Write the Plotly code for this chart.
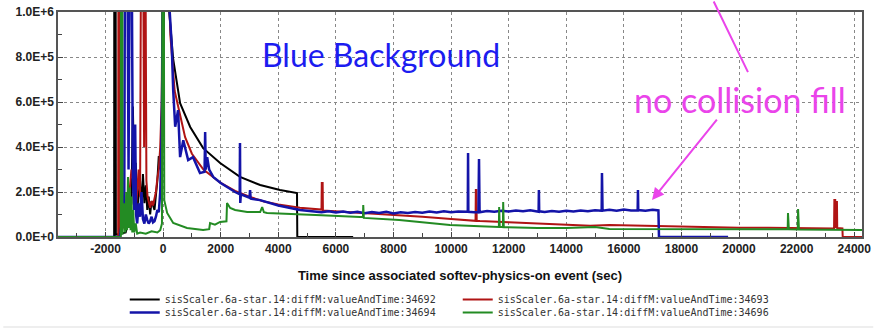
import plotly.graph_objects as go

# ---------------- data ----------------
black_x = [-3650, -1700, -1695, -1650, -1640, -1300, -1200, -1100, -1050, -1000, -950, -900, -800, -750, -700,
           -650, -600, -550, -500, -450, -400, -300, -200, -150, -100, -50, 0, 60, 180, 350, 590, 940, 1390,
           1980, 2670, 3370, 4060, 4650, 4660, 6600]
black_y = [0, 0, 1.5e6, 1.5e6, 10000, 20000, 80000, 150000, 580000, 200000, 330000, 120000, 250000, 120000, 280000,
           150000, 230000, 120000, 180000, 100000, 160000, 120000, 250000, 360000, 300000, 520000, 600000, 1.5e6,
           1.05e6, 790000, 595000, 489000, 395000, 329000, 267000, 231000, 209000, 195000, 0, 0]

red_x = [-3650, -1560, -1550, -1520, -1510, -1300, -1200, -1100, -1000, -950, -900, -850, -800, -760, -700, -660,
         -620, -580, -540, -500, -450, -400, -350, -300, -250, -200, -150, -100, -50, 0, 120, 250, 400, 764, 1000,
         1400, 2000, 2500, 3020, 3500, 4000, 4750, 5400, 5500, 5510, 5540, 5550, 6500, 7500, 8200, 9000, 10000,
         10850, 10860, 10880, 10890, 11000, 12000, 13000, 14000, 14830, 15500, 16500, 17500, 18000, 19000, 20000,
         21000, 22000, 23000, 23300, 23310, 23340, 23350, 23370, 23400, 23410, 23590, 23600, 24270]
red_y = [0, 0, 1.5e6, 1.5e6, 20000, 60000, 150000, 300000, 220000, 120000, 200000, 300000, 180000, 1.5e6, 1.5e6,
         400000, 1.5e6, 250000, 180000, 150000, 130000, 160000, 140000, 170000, 200000, 260000, 300000, 400000,
         600000, 1.5e6, 1.5e6, 900000, 650000, 444000, 370000, 300000, 240000, 205000, 178000, 158000, 145000,
         130000, 122000, 122000, 240000, 240000, 118000, 111000, 104000, 98000, 90000, 80000, 72000, 209000,
         209000, 72000, 71000, 66000, 60000, 54000, 50000, 53000, 50000, 47000, 44000, 42000, 41000, 41000, 40000,
         38000, 38000, 164000, 164000, 40000, 156000, 156000, 40000, 38000, 0, 0]

blue_x = [-3650, -1500, -1450, -1400, -1350, -1320, -1250, -1200, -1150, -1100, -1050, -1000, -970, -940, -900,
          -850, -800, -750, -700, -650, -600, -550, -500, -450, -400, -350, -300, -250, -200, -150, -100, -60, -30,
          0, 150, 230, 300, 350, 420, 520, 590, 700, 870, 1040, 1280, 1440, 1460, 1480, 1530, 1600, 1740, 2000,
          2220, 2500, 2660, 2670, 2680, 2700, 3000, 3020, 3040, 3370, 4000, 4750, 5000, 5250, 5500, 5750, 6000,
          6250, 6500, 6750, 7000, 7250, 7500, 7750, 8000, 8250, 8500, 8750, 9000, 9250, 9500, 9750, 10000, 10250,
          10580, 10590, 10600, 10800, 10950, 10970, 10990, 11250, 11500, 11750, 12000, 12250, 12500, 12750, 13040,
          13050, 13060, 13250, 13500, 13750, 14000, 14250, 14500, 14750, 15000, 15230, 15240, 15260, 15500, 15750,
          16000, 16250, 16480, 16490, 16500, 16750, 17000, 17200, 17220, 19620]
blue_y = [0, 0, 50000, 120000, 80000, 1.5e6, 1.5e6, 300000, 1.5e6, 1.5e6, 250000, 120000, 500000, 100000, 60000,
          150000, 90000, 200000, 80000, 60000, 100000, 75000, 60000, 70000, 90000, 65000, 70000, 90000, 120000,
          110000, 200000, 400000, 700000, 1.5e6, 1.5e6, 1.0e6, 850000, 653000, 490000, 564000, 355000, 430000,
          342000, 355000, 284000, 290000, 467000, 300000, 355000, 300000, 267000, 240000, 222000, 200000, 190000,
          418000, 151000, 190000, 175000, 209000, 170000, 164000, 140000, 120000, 116000, 112000, 110000, 114000,
          109000, 113000, 108000, 112000, 106000, 111000, 107000, 112000, 105000, 110000, 107000, 111000, 108000,
          113000, 109000, 114000, 110000, 113000, 112000, 373000, 112000, 110000, 111000, 347000, 110000, 116000,
          112000, 117000, 113000, 118000, 114000, 119000, 112000, 209000, 114000, 111000, 116000, 112000, 117000,
          113000, 118000, 114000, 119000, 117000, 284000, 117000, 121000, 117000, 122000, 118000, 118000, 209000,
          120000, 117000, 121000, 118000, 0, 0]

green_x = [-3650, -1470, -1460, -1420, -1410, -1350, -1320, -1280, -1250, -1220, -1190, -1160, -1130, -1100, -1070,
           -1040, -1000, -950, -900, -800, -600, -400, -200, -100, -40, -20, 20, 40, 140, 350, 830, 1390, 1600, 1630,
           1800, 1980, 2200, 2220, 2330, 2500, 2920, 3370, 3440, 3500, 3610, 4750, 5500, 6840, 6940, 6950, 6970,
           8200, 9960, 11000, 11660, 11670, 11690, 11800, 11810, 11830, 13000, 14000, 15000, 15500, 18000, 20000,
           21690, 21700, 21730, 22040, 22050, 22080, 23000, 24270]
green_y = [0, 0, 1.5e6, 1.5e6, 10000, 150000, 20000, 200000, 30000, 267000, 40000, 220000, 30000, 180000, 20000,
           120000, 20000, 60000, 15000, 20000, 15000, 25000, 20000, 30000, 60000, 1.5e6, 1.5e6, 164000, 107000,
           62000, 40000, 31000, 35000, 62000, 55000, 67000, 70000, 151000, 129000, 120000, 111000, 111000, 133000,
           110000, 107000, 102000, 97000, 89000, 89000, 142000, 85000, 76000, 53000, 48000, 45000, 133000, 45000,
           44000, 155000, 44000, 40000, 40000, 44000, 36000, 36000, 35000, 34000, 107000, 34000, 33000, 124000,
           33000, 32000, 31000]

series_names = ["sisScaler.6a-star.14:diffM:valueAndTime:34692",
                "sisScaler.6a-star.14:diffM:valueAndTime:34693",
                "sisScaler.6a-star.14:diffM:valueAndTime:34694",
                "sisScaler.6a-star.14:diffM:valueAndTime:34696"]

x_tickvals = [-2000, 0, 2000, 4000, 6000, 8000, 10000, 12000, 14000, 16000, 18000, 20000, 22000, 24000]
x_ticktext = ["-2000", "0", "2000", "4000", "6000", "8000", "10000", "12000", "14000", "16000", "18000",
              "20000", "22000", "24000"]
y_tickvals = [0, 200000, 400000, 600000, 800000, 1000000]
y_ticktext = ["0.0E+0", "2.0E+5", "4.0E+5", "6.0E+5", "8.0E+5", "1.0E+6"]

# ---------------- figure ----------------
colors = ["#000000", "#b01414", "#1414a8", "#238b23"]
widths = [2, 2, 2.5, 2]
legend_ids = ["legend", "legend", "legend2", "legend2"]   # two legend rows
xs = [black_x, red_x, blue_x, green_x]
ys = [black_y, red_y, blue_y, green_y]

fig = go.Figure()
for name, c, w, lg, x, y in zip(series_names, colors, widths, legend_ids, xs, ys):
    fig.add_trace(go.Scatter(x=x, y=y, mode="lines", name=name, legend=lg,
                             line=dict(color=c, width=w)))

tick_font = dict(family="Liberation Sans", size=12, color="#222", weight="bold")
fig.update_xaxes(range=[-3650, 24270], tickvals=x_tickvals, ticktext=x_ticktext, tickfont=tick_font,
                 ticklabeloverflow="allow",
                 showgrid=True, gridcolor="#888", griddash="dot", gridwidth=1,
                 showline=True, linecolor="#555", linewidth=1.5, mirror=True,
                 ticks="inside", ticklen=5, tickcolor="#444",
                 minor=dict(dtick=1000, tick0=0, ticks="inside", ticklen=4, tickcolor="#444", showgrid=False),
                 zeroline=False,
                 title=dict(text="Time since associated softev-physics-on event (sec)",
                            font=dict(family="Liberation Sans", size=13, color="#111", weight="bold"),
                            standoff=16))
fig.update_yaxes(range=[0, 1000000], tickvals=y_tickvals, ticktext=y_ticktext, tickfont=tick_font,
                 ticklabeloverflow="allow",
                 showgrid=True, gridcolor="#888", griddash="dot", gridwidth=1,
                 showline=True, linecolor="#555", linewidth=1.5, mirror=True,
                 ticks="inside", ticklen=5, tickcolor="#444",
                 minor=dict(dtick=100000, tick0=0, ticks="inside", ticklen=4, tickcolor="#444", showgrid=False),
                 zeroline=False)

fig.add_annotation(text="Blue Background", x=0.251, y=0.81, xref="paper", yref="paper", showarrow=False,
                   font=dict(family="Lato", size=32, color="#1c1cf0"), xanchor="left", yanchor="middle")
fig.add_annotation(text="no collision fill", x=0.982, y=0.609, xref="paper", yref="paper", showarrow=False,
                   font=dict(family="Lato", size=34, color="#ea44ea"), xanchor="right", yanchor="middle")
# arrow pointing to the blue trace
fig.add_annotation(text="", x=16980, y=164000, xref="x", yref="y", showarrow=True,
                   ax=66, ay=-82, arrowcolor="#ea44ea", arrowwidth=2, arrowhead=2, arrowsize=1.2)
# line from above towards the text
fig.add_annotation(text="", x=20310, y=733000, xref="x", yref="y", showarrow=True,
                   ax=-35, ay=-80, arrowcolor="#ea44ea", arrowwidth=2, arrowhead=0)

fig.add_shape(type="line", xref="paper", yref="paper", x0=-0.068, x1=1.014, y0=-0.4, y1=-0.4,
              line=dict(color="#dddddd", width=1))

legend_common = dict(orientation="h", x=0.083, yref="container", xanchor="left", yanchor="top",
                     entrywidth=288, entrywidthmode="pixels", tracegroupgap=0,
                     font=dict(family="DejaVu Sans Mono", size=10, color="#333"),
                     bgcolor="rgba(0,0,0,0)", itemwidth=30)

fig.update_layout(width=876, height=328, margin=dict(l=58, r=14, t=12, b=91, autoexpand=False),
                  paper_bgcolor="white", plot_bgcolor="white",
                  showlegend=True,
                  legend=dict(legend_common, y=0.131),
                  legend2=dict(legend_common, y=0.0915))

# remove the browser's default body margin so the figure fills the window exactly
fig.write_html("out.html", config={"displayModeBar": False},
               post_script="document.body.style.margin='0';")
